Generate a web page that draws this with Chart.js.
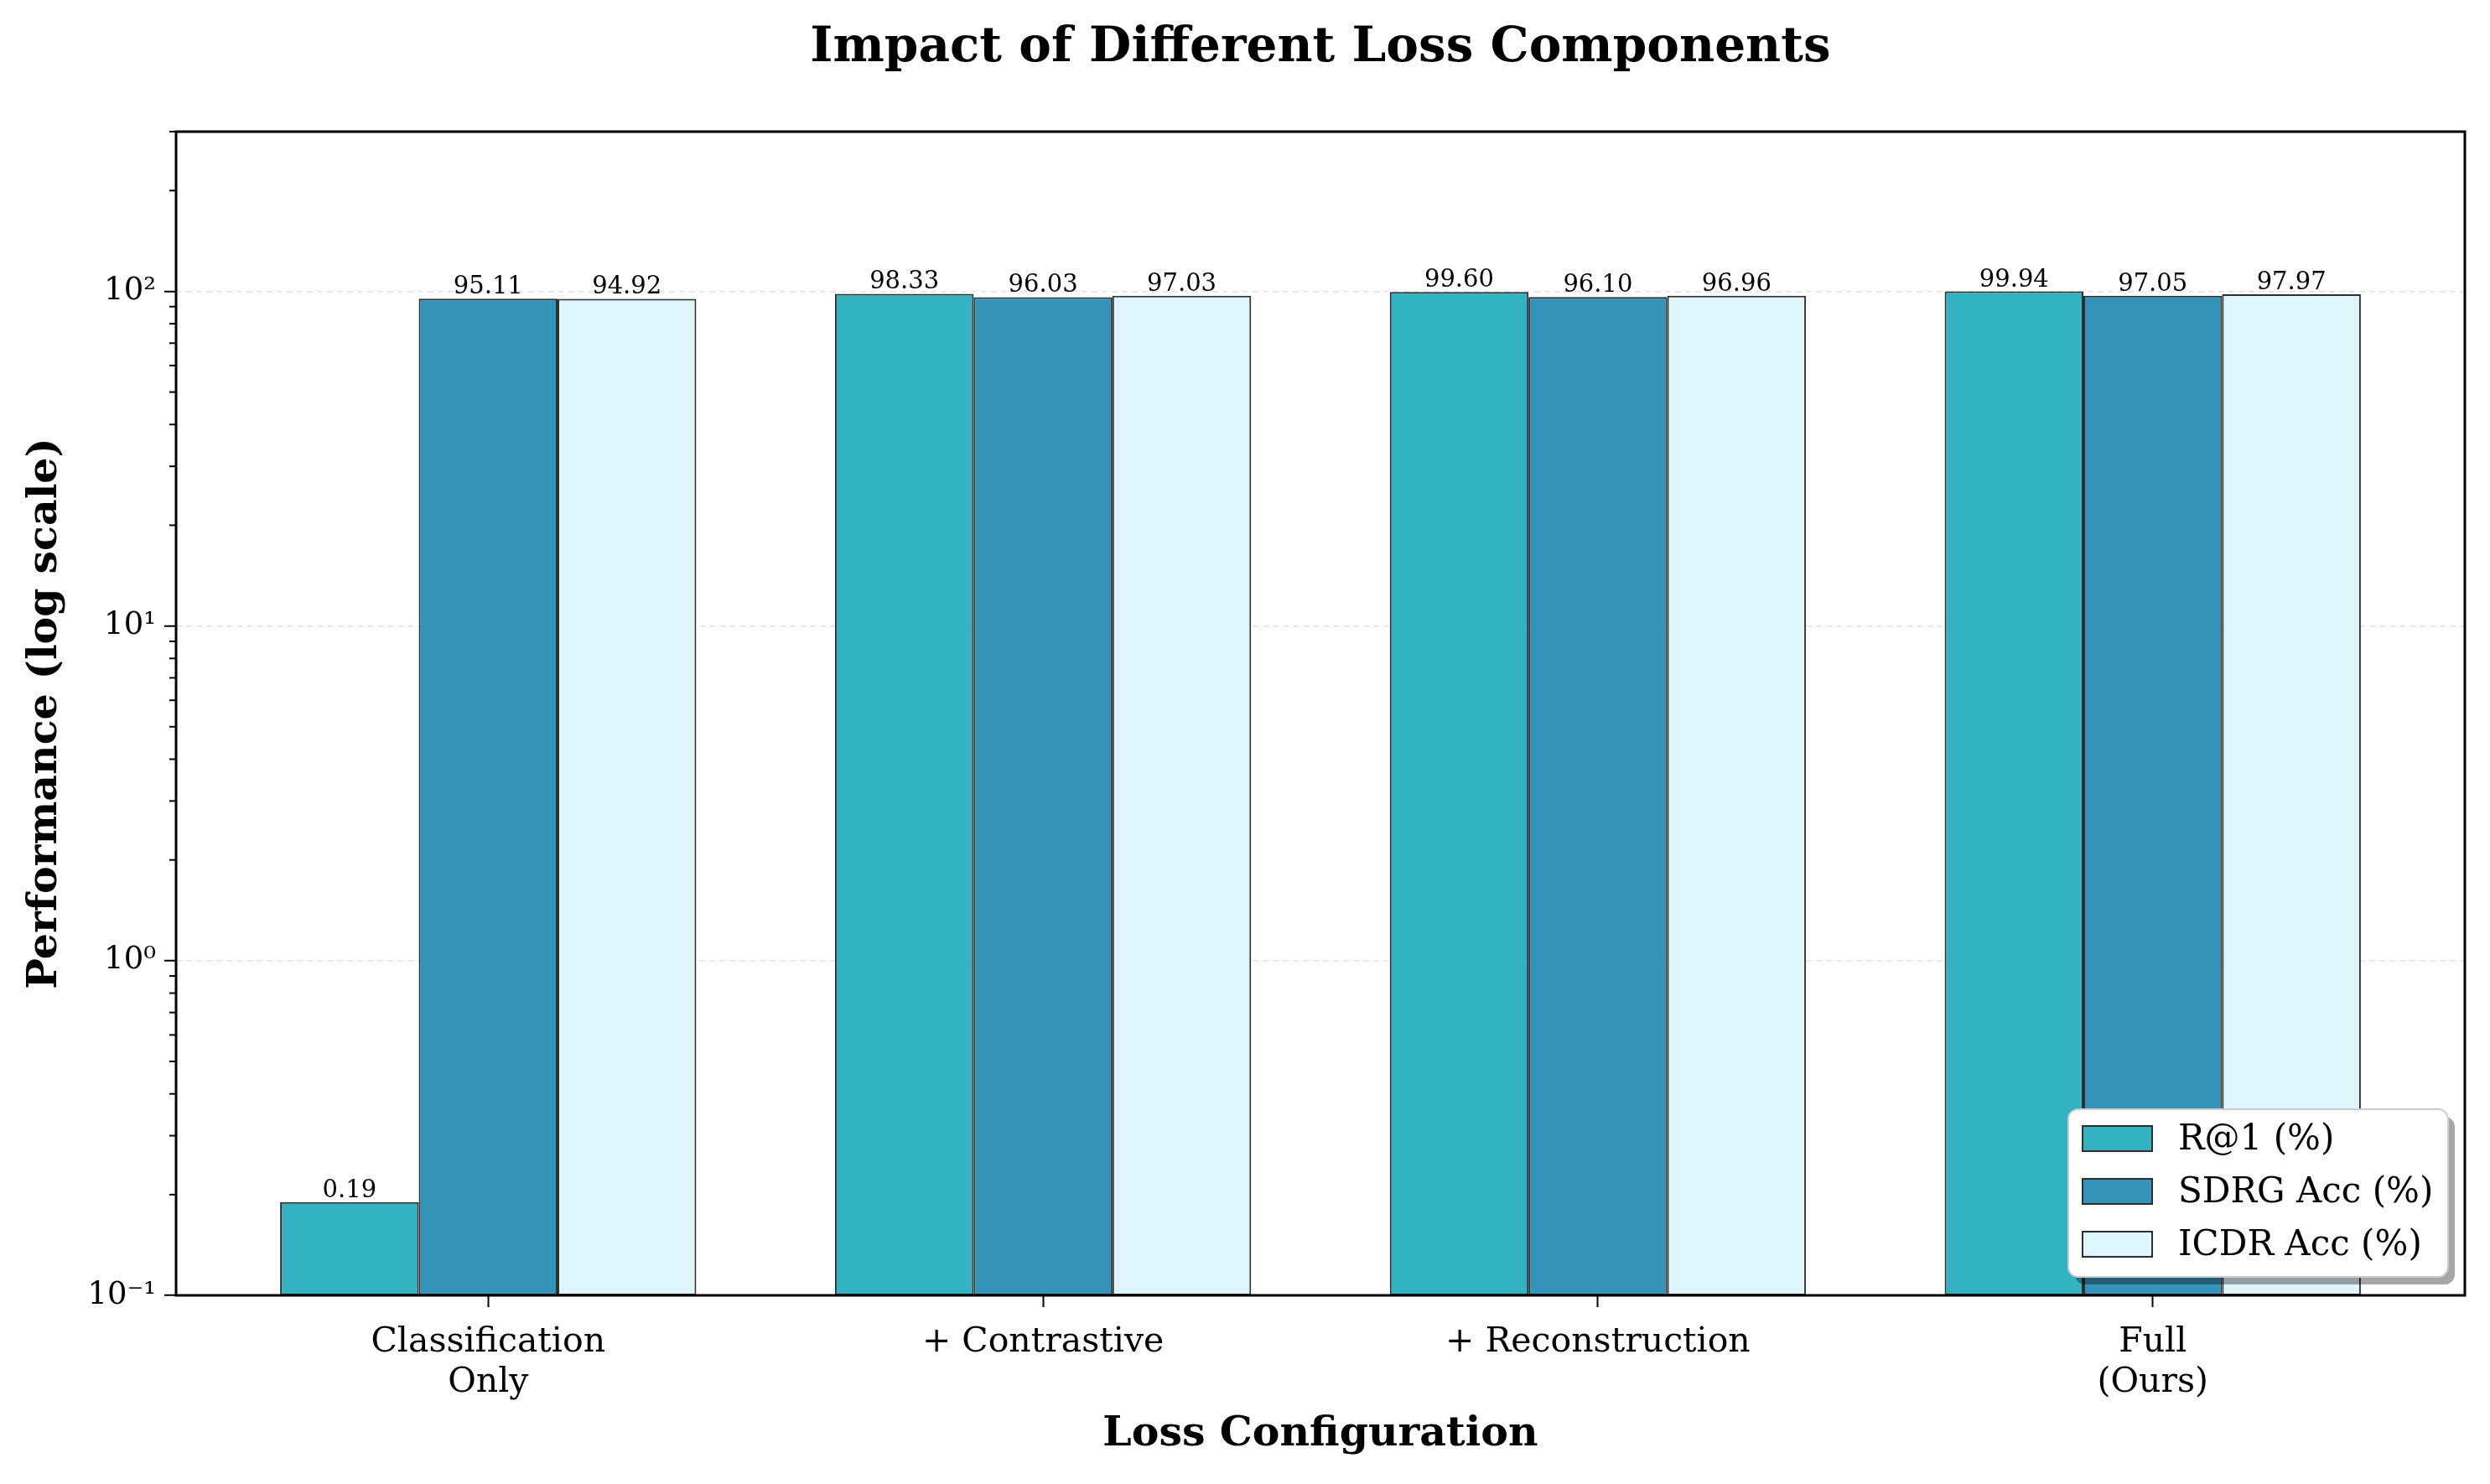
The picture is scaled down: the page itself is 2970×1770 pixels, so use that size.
<!DOCTYPE html>
<html>
<head>
<meta charset="utf-8">
<script src="https://cdn.jsdelivr.net/npm/chart.js@4.4.0/dist/chart.umd.min.js"></script>
<style>
  html, body { margin: 0; padding: 0; background: #fff; }
  canvas { display: block; }
</style>
</head>
<body>
<canvas id="lossChart" width="2970" height="1770"></canvas>
<script>
// data
const categories = [["Classification", "Only"], "+ Contrastive", "+ Reconstruction", ["Full", "(Ours)"]];
const r1Values = [0.19, 98.33, 99.60, 99.94];
const sdrgValues = [95.11, 96.03, 96.10, 97.05];
const icdrValues = [94.92, 97.03, 96.96, 97.97];
const seriesLabels = ["R@1 (%)", "SDRG Acc (%)", "ICDR Acc (%)"];
const yMajorTicks = [0.1, 1, 10, 100];
const yTickLabels = ["10⁻¹", "10⁰", "10¹", "10²"];
const yMin = 0.1;
const yMax = 300;

const barColors = ["#33b2c1", "#3493b9", "#def5fc"];
const edgeColor = "#2e2e2e";
const serif = "'DejaVu Serif', 'Liberation Serif', serif";

Chart.defaults.font.family = serif;
Chart.defaults.color = "#000";

// major + minor ticks for the log axis
function logTicks() {
  const ticks = [];
  yMajorTicks.forEach((m) => {
    ticks.push({ value: m, major: true });
    for (let k = 2; k <= 9; k++) {
      if (m * k <= yMax + 1e-9) ticks.push({ value: m * k, major: false });
    }
  });
  return ticks;
}

// numbers above bars
const valueLabels = {
  id: "valueLabels",
  afterDatasetsDraw(chart) {
    const ctx = chart.ctx;
    ctx.save();
    ctx.font = "29px " + serif;
    ctx.fillStyle = "#000";
    ctx.textAlign = "center";
    ctx.textBaseline = "alphabetic";
    chart.data.datasets.forEach((ds, di) => {
      chart.getDatasetMeta(di).data.forEach((bar, i) => {
        ctx.fillText(ds.data[i].y.toFixed(2), bar.x, bar.y - 6);
      });
    });
    ctx.restore();
  },
};

// axes frame, minor ticks and the legend box
const frameAndLegend = {
  id: "frameAndLegend",
  afterDraw(chart) {
    const { ctx, chartArea } = chart;
    const yScale = chart.scales.y;
    ctx.save();

    // minor ticks
    ctx.strokeStyle = "#000";
    ctx.lineWidth = 2;
    yScale.ticks.forEach((t) => {
      if (t.major) return;
      const py = yScale.getPixelForValue(t.value);
      ctx.beginPath();
      ctx.moveTo(chartArea.left - 8, py);
      ctx.lineTo(chartArea.left, py);
      ctx.stroke();
    });

    // frame
    ctx.lineWidth = 3;
    ctx.strokeRect(chartArea.left, chartArea.top, chartArea.right - chartArea.left, chartArea.bottom - chartArea.top);

    // legend
    const w = 453, h = 200;
    const x = chartArea.right - 20 - w;
    const y = chartArea.bottom - 22 - h;
    ctx.fillStyle = "rgba(0,0,0,0.35)";
    ctx.beginPath();
    ctx.roundRect(x + 8, y + 9, w, h, 12);
    ctx.fill();
    ctx.fillStyle = "#fff";
    ctx.beginPath();
    ctx.roundRect(x, y, w, h, 12);
    ctx.fill();
    ctx.strokeStyle = "#cccccc";
    ctx.lineWidth = 2;
    ctx.stroke();

    ctx.font = "42px " + serif;
    ctx.textBaseline = "middle";
    ctx.textAlign = "left";
    chart.data.datasets.forEach((ds, i) => {
      const rowY = y + 35 + i * 63;
      ctx.fillStyle = ds.backgroundColor;
      ctx.fillRect(x + 17, rowY - 15, 83, 30);
      ctx.strokeStyle = edgeColor;
      ctx.lineWidth = 2;
      ctx.strokeRect(x + 17, rowY - 15, 83, 30);
      ctx.fillStyle = "#000";
      ctx.fillText(ds.label, x + 131, rowY + 2);
    });
    ctx.restore();
  },
};

const allSeries = [r1Values, sdrgValues, icdrValues];

new Chart(document.getElementById("lossChart").getContext("2d"), {
  type: "bar",
  data: {
    datasets: allSeries.map((vals, di) => ({
      label: seriesLabels[di],
      data: vals.map((v, i) => ({ x: i, y: v })),
      backgroundColor: barColors[di],
      borderColor: edgeColor,
      borderWidth: 2,
      borderSkipped: false,
      categoryPercentage: 0.75,
      barPercentage: 1.0,
    })),
  },
  options: {
    responsive: false,
    animation: false,
    devicePixelRatio: 1,
    layout: { padding: { left: 0, right: 30, top: 0, bottom: 0 } },
    plugins: {
      legend: { display: false },
      tooltip: { enabled: false },
      title: {
        display: true,
        fullSize: false,
        text: "Impact of Different Loss Components",
        color: "#000",
        font: { size: 58, weight: "bold", family: serif },
        padding: { top: 23, bottom: 64.4 },
      },
    },
    scales: {
      x: {
        type: "linear",
        min: -0.5625,
        max: 3.5625,
        offset: false,
        afterBuildTicks: (scale) => {
          scale.ticks = categories.map((c, i) => ({ value: i }));
        },
        afterFit: (scale) => {
          scale.height = 225;
        },
        border: { display: false },
        grid: {
          offset: false,
          drawOnChartArea: false,
          drawTicks: true,
          tickLength: 14,
          tickWidth: 2,
          tickColor: "#000",
        },
        ticks: {
          autoSkip: false,
          maxRotation: 0,
          padding: 18,
          font: { size: 41, lineHeight: 1.17 },
          callback: (value) => categories[value],
        },
        title: {
          display: true,
          text: "Loss Configuration",
          font: { size: 49, weight: "bold" },
          padding: { top: 0, bottom: 29 },
        },
      },
      y: {
        type: "logarithmic",
        min: yMin,
        max: yMax,
        afterBuildTicks: (scale) => {
          scale.ticks = logTicks();
        },
        afterFit: (scale) => {
          scale.width = 210;
        },
        border: { display: false, dash: [7, 5] },
        grid: {
          color: (ctx) => (ctx.tick && ctx.tick.major ? "#e3e3e3" : "transparent"),
          lineWidth: 1.5,
          tickColor: (ctx) => (ctx.tick && ctx.tick.major ? "#000" : "transparent"),
          tickLength: 14,
          tickWidth: 2,
          tickBorderDash: [],
        },
        ticks: {
          autoSkip: false,
          padding: 10,
          font: { size: 37 },
          callback: (value, index, ticks) => {
            const i = yMajorTicks.indexOf(value);
            return i >= 0 ? yTickLabels[i] : "";
          },
        },
        title: {
          display: true,
          text: "Performance (log scale)",
          font: { size: 49, weight: "bold" },
          padding: { top: 25, bottom: 0 },
        },
      },
    },
  },
  plugins: [valueLabels, frameAndLegend],
});
</script>
</body>
</html>
